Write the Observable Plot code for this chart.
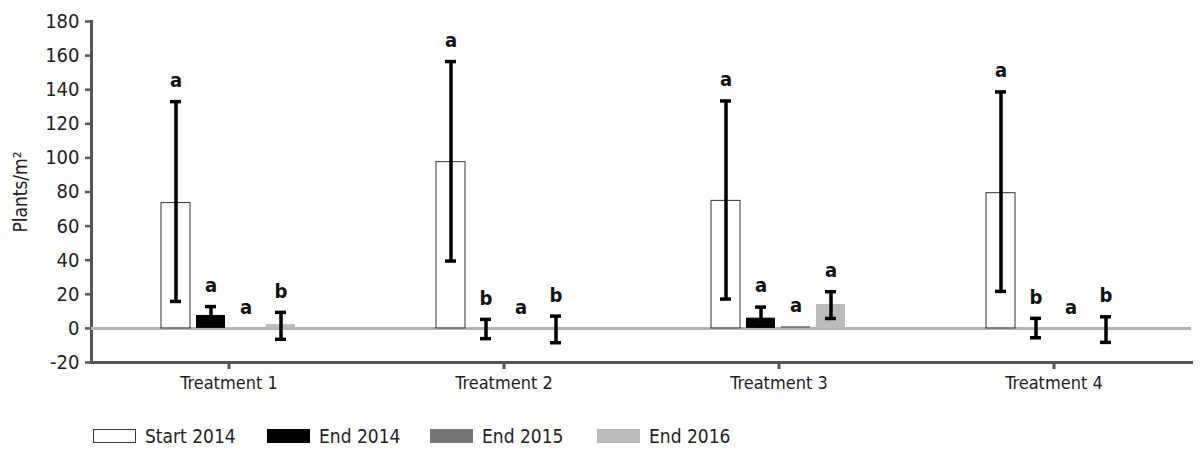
<!DOCTYPE html>
<html>
<head>
<meta charset="utf-8">
<script src="https://cdn.jsdelivr.net/npm/d3@7"></script>
<script src="https://cdn.jsdelivr.net/npm/@observablehq/plot@0.6"></script>
<style>
  html, body { margin: 0; padding: 0; background: #fff; }
  body { width: 1200px; height: 460px; overflow: hidden; font-family: "Liberation Sans Narrow", "DejaVu Sans Condensed", "Roboto Condensed", sans-serif; font-stretch: condensed; color: #222; }
  #chart svg { display: block; }
  #chart svg g[aria-label='y-axis label'] { font-size: 19px; }
  #legend { position: relative; height: 50px; }
  .item { position: absolute; top: 18px; display: flex; align-items: center; font-size: 19px; line-height: 16px; }
  .sw { width: 43px; height: 14px; box-sizing: border-box; margin-right: 9px; }
</style>
</head>
<body>
<div id="chart"></div>
<div id="legend"></div>
<script>
// ---- data ----
const treatments = ["Treatment 1", "Treatment 2", "Treatment 3", "Treatment 4"];
const series = ["Start 2014", "End 2014", "End 2015", "End 2016"];

const start2014   = [73.5, 97.5, 74.8, 79.3];
const start2014Lo = [15.8, 39.5, 17.2, 21.7];
const start2014Hi = [133.0, 156.5, 133.4, 138.7];

const end2014   = [7.6, 0, 6.0, 0];
const end2014Lo = [2.5, -6.0, 1.5, -5.5];
const end2014Hi = [12.8, 5.3, 12.5, 5.9];

const end2015   = [0, 0, 1.0, 0];
const end2015Lo = [null, null, null, null];
const end2015Hi = [null, null, null, null];

const end2016   = [2.2, 0, 14.0, 0];
const end2016Lo = [-6.4, -8.4, 5.8, -8.2];
const end2016Hi = [9.4, 7.2, 21.5, 6.8];

const start2014Letters = ["a", "a", "a", "a"];
const end2014Letters   = ["a", "b", "a", "b"];
const end2015Letters   = ["a", "a", "a", "a"];
const end2016Letters   = ["b", "b", "a", "b"];

const yTicks = [-20, 0, 20, 40, 60, 80, 100, 120, 140, 160, 180];
const seriesColors = ["#ffffff", "#000000", "#767676", "#bbbbbb"];

// ---- table ----
const values  = [start2014, end2014, end2015, end2016];
const lows    = [start2014Lo, end2014Lo, end2015Lo, end2016Lo];
const highs   = [start2014Hi, end2014Hi, end2015Hi, end2016Hi];
const letters = [start2014Letters, end2014Letters, end2015Letters, end2016Letters];

const rows = treatments.flatMap((t, i) => series.map((s, j) => ({
  treatment: t, series: s, value: values[j][i], lo: lows[j][i], hi: highs[j][i], letter: letters[j][i]
})));
const errRows = rows.filter(d => d.lo != null);

const font = '"Liberation Sans Narrow", "DejaVu Sans Condensed", "Roboto Condensed", sans-serif';

const chart = Plot.plot({
  width: 1200,
  height: 410,
  marginLeft: 91,
  marginRight: 9,
  marginTop: 21,
  marginBottom: 48,
  style: { fontFamily: font, color: "#222", background: "#fff" },
  fx: { domain: treatments, padding: 0, label: null },
  x: { domain: series, paddingInner: 0.17, paddingOuter: 1.93, axis: null },
  y: { domain: [-20, 180], label: null },
  color: { domain: series, range: seriesColors },
  marks: [
    Plot.frame({ anchor: "bottom", stroke: "#555", strokeWidth: 3 }),
    Plot.frame({ anchor: "left", stroke: "#555", strokeWidth: 3, facetAnchor: "left" }),
    Plot.ruleY([0], { stroke: "#b3b3b3", strokeWidth: 3 }),
    Plot.barY(rows, { fx: "treatment", x: "series", y: "value", fill: "series",
      stroke: d => d.series === "Start 2014" ? "#333" : "none", strokeWidth: 1 }),
    Plot.ruleX(errRows, { fx: "treatment", x: "series", y1: "lo", y2: "hi", stroke: "#000", strokeWidth: 3.5 }),
    Plot.tickY(errRows, { fx: "treatment", x: "series", y: "hi", stroke: "#000", strokeWidth: 3.5, insetLeft: 9, insetRight: 9 }),
    Plot.tickY(errRows, { fx: "treatment", x: "series", y: "lo", stroke: "#000", strokeWidth: 3.5, insetLeft: 9, insetRight: 9 }),
    Plot.text(rows, { fx: "treatment", x: "series", y: d => d.hi ?? d.value, text: "letter",
      dy: -21, fontSize: 20, fontWeight: "bold", fill: "#111" }),
    Plot.axisY({ ticks: yTicks, tickFormat: d => String(d), tickSize: 6, tickPadding: 6, fontSize: 20, stroke: "#555", strokeWidth: 2.5,
      label: "Plants/m²", labelAnchor: "center", labelArrow: "none", labelOffset: 78 }),
    Plot.axisFx({ anchor: "bottom", tickSize: 7, tickPadding: 7, fontSize: 18, stroke: "#555", strokeWidth: 3, label: null })
  ]
});
document.getElementById("chart").appendChild(chart);

// ---- legend ----
const legendLeft = [93, 267, 430, 597];
const legend = document.getElementById("legend");
series.forEach((s, j) => {
  const item = document.createElement("div");
  item.className = "item";
  item.style.left = legendLeft[j] + "px";
  const sw = document.createElement("span");
  sw.className = "sw";
  sw.style.background = seriesColors[j];
  if (j === 0) sw.style.border = "1px solid #333";
  const tx = document.createElement("span");
  tx.textContent = s;
  item.appendChild(sw);
  item.appendChild(tx);
  legend.appendChild(item);
});
</script>
</body>
</html>
